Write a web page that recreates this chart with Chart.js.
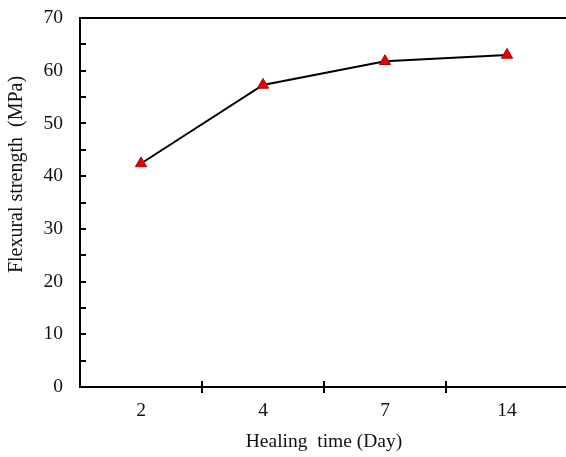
<!DOCTYPE html>
<html>
<head>
<meta charset="utf-8">
<script src="https://cdn.jsdelivr.net/npm/chart.js@4"></script>
<style>
  html, body { margin: 0; padding: 0; background: #fff; overflow: hidden; }
  #strengthChart { display: block; }
</style>
</head>
<body>
<canvas id="strengthChart" width="568" height="457"></canvas>
<script>
// Healing days and flexural strength (MPa)
const healingDays = ['2', '4', '7', '14'];
const flexuralStrength = [42.4, 57.3, 61.8, 63.0];
const yMajorTicks = [0, 10, 20, 30, 40, 50, 60, 70];
const yMinorTicks = [5, 15, 25, 35, 45, 55, 65];

const serif = '"Liberation Serif", "Times New Roman", serif';

// frame, inward tick marks and the y title, drawn from the chart's own scales
const frameTicks = {
    id: 'frameTicks',
    afterDraw: (chart) => {
        const { ctx, chartArea, scales } = chart;
        const { left, right, top, bottom } = chartArea;
        const x = scales.x, y = scales.y;

        ctx.save();
        ctx.strokeStyle = '#000';
        ctx.lineWidth = 2;
        ctx.lineCap = 'butt';

        // left axis, top edge, bottom axis
        ctx.beginPath();
        ctx.moveTo(left, top - 1);
        ctx.lineTo(left, bottom + 1);
        ctx.moveTo(left - 1, top);
        ctx.lineTo(right, top);
        ctx.moveTo(left - 1, bottom);
        ctx.lineTo(right, bottom);
        ctx.stroke();

        // y ticks point into the plot
        ctx.beginPath();
        yMajorTicks.concat(yMinorTicks).forEach(v => {
            const py = Math.round(y.getPixelForValue(v));
            if (v === 0 || v === 70) return;
            ctx.moveTo(left, py);
            ctx.lineTo(left + 6, py);
        });
        // x ticks sit between categories and cross the axis
        for (let i = 1; i < healingDays.length; i++) {
            const px = Math.round((x.getPixelForValue(i - 1) + x.getPixelForValue(i)) / 2);
            ctx.moveTo(px, bottom - 6);
            ctx.lineTo(px, bottom + 6);
        }
        ctx.stroke();

        // y title, sitting a bit above the axis middle
        ctx.translate(17, (top + bottom) / 2 - 28);
        ctx.rotate(-Math.PI / 2);
        ctx.fillStyle = '#111';
        ctx.font = '20px ' + serif;
        ctx.textAlign = 'center';
        ctx.textBaseline = 'middle';
        ctx.fillText('Flexural strength  (MPa)', 0, 0);
        ctx.restore();
    }
};

const ctx = document.getElementById('strengthChart').getContext('2d');
new Chart(ctx, {
    type: 'line',
    data: {
        labels: healingDays,
        datasets: [{
            data: flexuralStrength,
            borderColor: '#000',
            borderWidth: 2,
            pointStyle: 'triangle',
            pointRadius: 6.5,
            pointBackgroundColor: '#e00000',
            pointBorderColor: '#b00000',
            pointBorderWidth: 1,
            tension: 0,
            fill: false
        }]
    },
    options: {
        responsive: false,
        animation: false,
        layout: {
            autoPadding: false,
            padding: { top: 18, left: 0, right: 0, bottom: 0 }
        },
        plugins: {
            legend: { display: false },
            tooltip: { enabled: false }
        },
        scales: {
            x: {
                type: 'category',
                offset: true,
                grid: { display: false, drawTicks: false },
                border: { display: false },
                ticks: {
                    color: '#111',
                    padding: 12,
                    maxRotation: 0,
                    font: { family: serif, size: 19.5 }
                },
                title: {
                    display: true,
                    text: 'Healing  time (Day)',
                    color: '#111',
                    padding: { top: 0, bottom: 3 },
                    font: { family: serif, size: 19.5 }
                },
                afterFit: (scale) => {
                    scale.height = 70;
                    scale.paddingLeft = 0;
                    scale.paddingRight = 0;
                }
            },
            y: {
                min: 0,
                max: 70,
                grid: { display: false, drawTicks: false },
                border: { display: false },
                ticks: {
                    stepSize: 10,
                    color: '#111',
                    padding: 17,
                    font: { family: serif, size: 19.5 }
                },
                afterFit: (scale) => {
                    scale.width = 80;
                    scale.paddingTop = 0;
                    scale.paddingBottom = 0;
                }
            }
        }
    },
    plugins: [frameTicks]
});
</script>
</body>
</html>
